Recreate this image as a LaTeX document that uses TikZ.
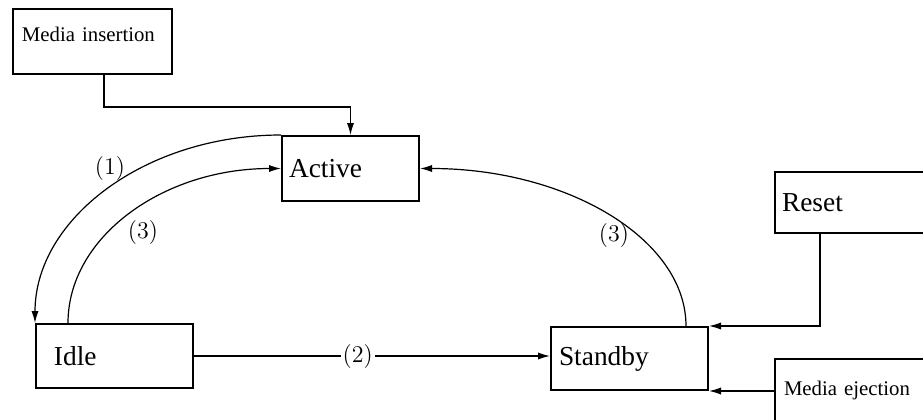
\documentclass[tikz,border=0pt]{standalone}
\usepackage{fontspec}
\setmainfont{Liberation Serif}
\usetikzlibrary{arrows.meta}

\begin{document}
\begin{tikzpicture}[x=0.5pt,y=-0.5pt,
	statebox/.style={draw, line width=1pt, anchor=north west, align=left, inner xsep=3.5pt, inner ysep=0pt, font=\fontsize{13.7}{16}\selectfont},
	eventbox/.style={draw, line width=1pt, anchor=north west, align=left, inner xsep=4.5pt, inner ysep=0pt, font=\fontsize{10.4}{12}\selectfont},
	conn/.style={line width=0.6pt, -{Latex[length=6pt,width=3.6pt]}},
	lbl/.style={inner sep=1pt, font=\fontsize{12.5}{14}\selectfont}]
	\useasboundingbox (0,0) rectangle (923,419);
	\clip (0,0) rectangle (923,419);
	% states
	\node[statebox, text width=61.5pt, minimum height=32.5pt] (active) at (281,135) {Active};
	\node[statebox, text width=60.5pt, minimum height=32pt, inner xsep=9pt] (idle) at (35,323) {Idle};
	\node[statebox, text width=70.5pt, minimum height=31.5pt, inner xsep=4pt] (standby) at (550,326) {Standby};
	% events
	\node[eventbox, text width=70.5pt, text height=16pt, text depth=16.5pt] (insert) at (12,8) {Media insertion};
	\node[statebox, text width=86pt, minimum height=30.5pt] (reset) at (774,171) {Reset};
	\node[eventbox, text width=84pt, text height=18.3pt, text depth=24pt] (eject) at (774,358) {Media ejection};
	% transitions
	\draw[conn] ([xshift=5.75pt]insert.south) -- ++(0,32) -| (active.north);
	\draw[conn] (active.north west) .. controls +(-136,0) and +(0,-104) .. (idle.north west);
	\draw[conn] ([xshift=16.5pt]idle.north west) .. controls +(0,-86) and +(-118,0) .. (active.west);
	\draw[conn] ([xshift=-11.5pt]standby.north east) .. controls +(0,-87) and +(147,0) .. (active.east);
	\draw[conn] (idle.east) -- node[lbl, fill=white, pos=0.46] {$(2)$} (idle.east -| standby.west);
	\draw[conn] ([xshift=-24pt]reset.south) |- (standby.north east);
	\draw[conn] (eject.west |- standby.south east) -- (standby.south east);
	% labels
	\node[lbl] (l1) at (110,168) {$(1)$};
	\node[lbl] (l3a) at (143,232) {$(3)$};
	\node[lbl] (l3b) at (614,235) {$(3)$};
\end{tikzpicture}
\end{document}
